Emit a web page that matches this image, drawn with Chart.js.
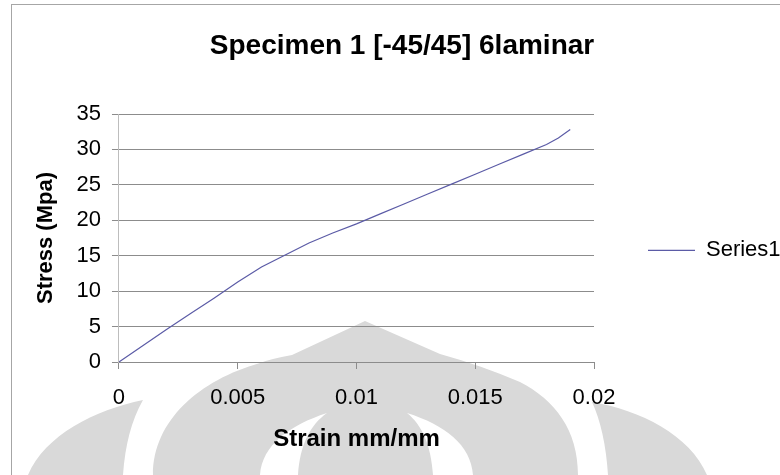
<!DOCTYPE html>
<html>
<head>
<meta charset="utf-8">
<title>Specimen 1 [-45/45] 6laminar</title>
<script src="https://cdn.jsdelivr.net/npm/chart.js@4.4.1/dist/chart.umd.min.js"></script>
<style>
  html, body { margin: 0; padding: 0; background: #fff; }
  #wrap { width: 780px; height: 475px; overflow: hidden; }
</style>
</head>
<body>
<div id="wrap"><canvas id="myChart" width="786" height="475"></canvas></div>
<script>
// Mätdata från dragprovet: töjning (mm/mm) och spänning (MPa).
const strain = [0, 0.001, 0.002, 0.003, 0.004, 0.005, 0.006, 0.007, 0.008, 0.009, 0.010, 0.011, 0.012, 0.013, 0.014, 0.015, 0.016, 0.017, 0.018, 0.0185, 0.019];
const stress = [0, 2.3, 4.6, 6.8, 9.0, 11.3, 13.4, 15.1, 16.8, 18.2, 19.5, 20.9, 22.3, 23.7, 25.1, 26.5, 27.9, 29.3, 30.7, 31.6, 32.8];

// Axelgränser och etiketter.
const xTickLabels = ['0', '0.005', '0.01', '0.015', '0.02'];
const xMax = 0.02;
const yMax = 35;
const seriesName = 'Series1';

const ctx = document.querySelector('#myChart');
const fontName = '"Liberation Sans", Arial, sans-serif';
const gridColor = '#8c8c8c';

// Ram runt hela diagrammet och den grå logotypen i bakgrunden.
const backdrop = {
  id: 'backdrop',
  beforeDraw(chart) {
    const c = chart.ctx;
    c.save();
    c.fillStyle = '#d9d9d9';

    // Stora kupolen.
    c.beginPath();
    c.moveTo(365, 321);
    c.lineTo(292, 355);
    c.quadraticCurveTo(270, 359, 260, 363);
    c.bezierCurveTo(200, 380, 153, 420, 153, 475);
    c.lineTo(578, 475);
    c.bezierCurveTo(578, 430, 555, 400, 520, 382);
    c.quadraticCurveTo(480, 365, 440, 354);
    c.closePath();
    c.fill();

    // Vänster blad.
    c.beginPath();
    c.moveTo(143, 400);
    c.bezierCurveTo(95, 410, 45, 435, 28, 475);
    c.lineTo(123, 475);
    c.quadraticCurveTo(126, 430, 143, 400);
    c.fill();

    // Höger blad.
    c.beginPath();
    c.moveTo(592, 402);
    c.bezierCurveTo(640, 410, 690, 435, 707, 475);
    c.lineTo(608, 475);
    c.quadraticCurveTo(605, 430, 592, 402);
    c.fill();

    // Vita bågar inne i kupolen.
    c.fillStyle = '#ffffff';
    c.beginPath();
    c.moveTo(327, 413);
    c.bezierCurveTo(290, 425, 262, 445, 260, 475);
    c.lineTo(298, 475);
    c.bezierCurveTo(300, 445, 310, 425, 327, 413);
    c.fill();

    c.beginPath();
    c.moveTo(407, 413);
    c.bezierCurveTo(445, 425, 471, 445, 473, 475);
    c.lineTo(433, 475);
    c.bezierCurveTo(431, 445, 422, 425, 407, 413);
    c.fill();

    // Ramen.
    c.strokeStyle = '#a6a6a6';
    c.lineWidth = 1;
    c.strokeRect(11.5, 4.5, 800, 500);
    c.restore();
  }
};

const points = strain.map((x, i) => ({x: x, y: stress[i]}));

new Chart(ctx, {
  type: 'scatter',
  data: {
    datasets: [{
      label: seriesName,
      data: points,
      showLine: true,
      borderColor: '#5b5ba6',
      backgroundColor: '#5b5ba6',
      borderWidth: 1.2,
      pointRadius: 0,
      tension: 0
    }]
  },
  options: {
    responsive: false,
    animation: false,
    layout: {
      padding: {top: 29, left: 18, right: 0, bottom: 23.4}
    },
    plugins: {
      title: {
        display: true,
        text: 'Specimen 1 [-45/45] 6laminar',
        color: '#000',
        font: {family: fontName, size: 28, weight: 'bold', lineHeight: 1.2},
        padding: {top: 0, bottom: 51.4}
      },
      legend: {
        position: 'right',
        // tom rubrik som skjuter ner etiketten en aning
        title: {
          display: true,
          text: ' ',
          font: {size: 10, lineHeight: 1},
          padding: 5
        },
        labels: {
          color: '#000',
          font: {family: fontName, size: 22},
          usePointStyle: true,
          pointStyle: 'line',
          pointStyleWidth: 47,
          padding: 54
        }
      },
      tooltip: {enabled: false}
    },
    scales: {
      x: {
        type: 'linear',
        min: 0,
        max: xMax,
        border: {color: gridColor, width: 1},
        grid: {drawOnChartArea: false, drawTicks: true, tickLength: 7, color: gridColor},
        ticks: {
          stepSize: 0.005,
          padding: 17,
          color: '#000',
          font: {family: fontName, size: 22, lineHeight: 1.1},
          maxRotation: 0,
          callback: (value, index) => xTickLabels[index]
        },
        title: {
          display: true,
          text: 'Strain mm/mm',
          color: '#000',
          font: {family: fontName, size: 24, weight: 'bold', lineHeight: 1},
          padding: {top: 0.4, bottom: 0}
        }
      },
      y: {
        min: 0,
        max: yMax,
        border: {color: '#bdbdbd', width: 1},
        grid: {color: gridColor, tickLength: 7},
        ticks: {
          stepSize: 5,
          padding: 11,
          color: '#000',
          font: {family: fontName, size: 22}
        },
        title: {
          display: true,
          text: 'Stress (Mpa)',
          color: '#000',
          font: {family: fontName, size: 22, weight: 'bold', lineHeight: 1.2},
          padding: {top: 14.8, bottom: 6.3}
        }
      }
    }
  },
  plugins: [backdrop]
});
</script>
</body>
</html>
